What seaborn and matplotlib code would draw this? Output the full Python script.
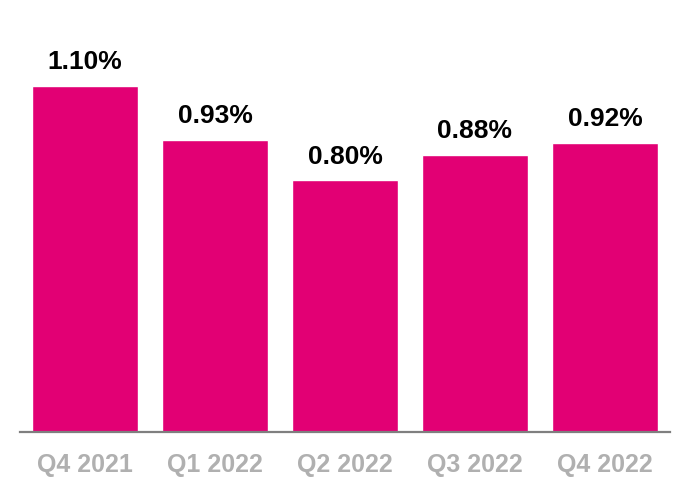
import numpy as np
import pandas as pd
import matplotlib
matplotlib.use("Agg")
import matplotlib.pyplot as plt
import seaborn as sns

quarters = ["Q4 2021", "Q1 2022", "Q2 2022", "Q3 2022", "Q4 2022"]
values = [1.10, 0.93, 0.80, 0.88, 0.92]
labels = ["1.10%", "0.93%", "0.80%", "0.88%", "0.92%"]

df = pd.DataFrame({"quarter": quarters, "value": values})

sns.set_style("white")
plt.rcParams["font.family"] = ["Liberation Sans", "DejaVu Sans"]

fig = plt.figure(figsize=(6.9, 5.0), dpi=100)
ax = fig.add_axes([20 / 690, 68 / 500, 650 / 690, 432 / 500])

sns.barplot(data=df, x="quarter", y="value", color="#E20074",
            saturation=1, width=0.81, ax=ax)

for i, (v, lab) in enumerate(zip(values, labels)):
    ax.annotate(lab, (i, v), xytext=(0, 8.5), textcoords="offset points",
                ha="center", va="bottom", fontsize=19, fontweight="bold",
                color="black")

ax.set_xlim(-0.5, 4.5)
ax.set_ylim(0, 432 / 314.5)
ax.set_xlabel("")
ax.set_ylabel("")
ax.set_yticks([])
ax.tick_params(axis="x", length=0, pad=15, labelsize=18, labelcolor="#b0b0b0")
for t in ax.get_xticklabels():
    t.set_fontweight("bold")

for s in ["top", "right", "left"]:
    ax.spines[s].set_visible(False)
ax.spines["bottom"].set_color("#7f7f7f")
ax.spines["bottom"].set_linewidth(1.6)

fig.savefig("out.png", dpi=100)
